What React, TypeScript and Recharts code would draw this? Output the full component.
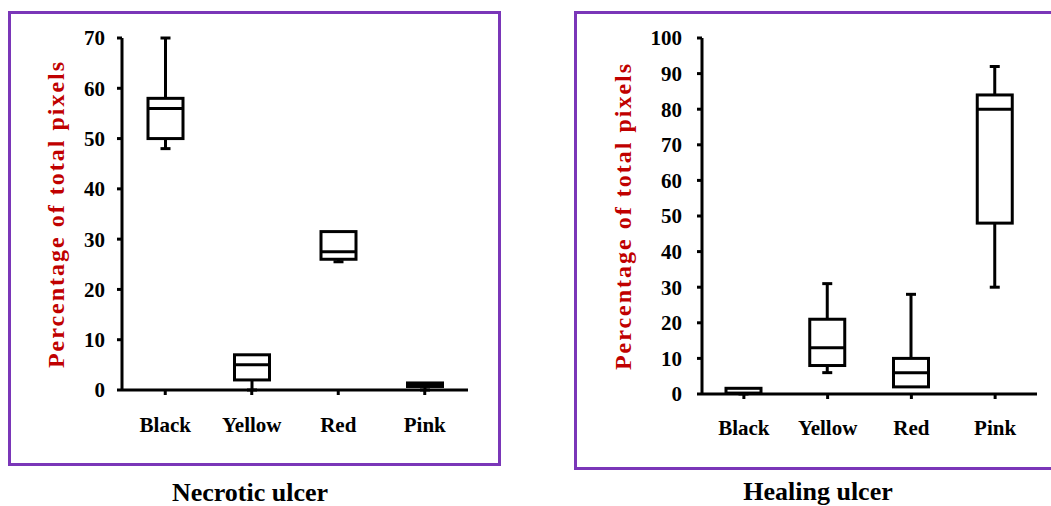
import { ComposedChart, Bar, XAxis, YAxis } from 'recharts';

// five-number summaries
const categories = ['Black', 'Yellow', 'Red', 'Pink'];

const necroticMin = [48, 0, 25.5, 0];
const necroticQ1 = [50, 2, 26, 0.7];
const necroticMedian = [56, 5, 27.5, 1];
const necroticQ3 = [58, 7, 31.5, 1.4];
const necroticMax = [70, 7, 31.5, 1.4];
const necroticTicks = [0, 10, 20, 30, 40, 50, 60, 70];

const healingMin = [0, 6, 2, 30];
const healingQ1 = [0.2, 8, 2, 48];
const healingMedian = [0.2, 13, 6, 80];
const healingQ3 = [1.6, 21, 10, 84];
const healingMax = [1.6, 31, 28, 92];
const healingTicks = [0, 10, 20, 30, 40, 50, 60, 70, 80, 90, 100];

const FONT = "'Liberation Serif', 'Times New Roman', serif";
const PURPLE = '#7a36b8';
const AXIS_RED = '#c00000';

type Row = { name: string; min: number; q1: number; median: number; q3: number; max: number };

function buildRows(min: number[], q1: number[], med: number[], q3: number[], max: number[]): Row[] {
    return categories.map((name, i) => ({ name, min: min[i], q1: q1[i], median: med[i], q3: q3[i], max: max[i] }));
}

const necroticData = buildRows(necroticMin, necroticQ1, necroticMedian, necroticQ3, necroticMax);
const healingData = buildRows(healingMin, healingQ1, healingMedian, healingQ3, healingMax);

// the bar spans [min, max]; inner levels are placed along that same span
function BoxShape(props: any) {
    const { x, y, width, height, payload } = props;
    if (x == null || y == null) return null;
    const top = Math.min(y, y + height);
    const bottom = Math.max(y, y + height);
    const span = payload.max - payload.min || 1;
    const py = (v: number) => bottom - ((v - payload.min) / span) * (bottom - top);
    const cx = x + width / 2;
    const cap = 5;
    const yQ1 = py(payload.q1);
    const yQ3 = py(payload.q3);
    const yMed = py(payload.median);
    const yMin = py(payload.min);
    const yMax = py(payload.max);
    const s = { stroke: '#000', strokeWidth: 3, fill: 'none' };
    return (
        <g>
            {yMax < yQ3 - 0.5 && <line x1={cx} x2={cx} y1={yMax} y2={yQ3} {...s} />}
            {yMax < yQ3 - 0.5 && <line x1={cx - cap} x2={cx + cap} y1={yMax} y2={yMax} {...s} />}
            {yMin > yQ1 + 0.5 && <line x1={cx} x2={cx} y1={yQ1} y2={yMin} {...s} />}
            {yMin > yQ1 + 0.5 && <line x1={cx - cap} x2={cx + cap} y1={yMin} y2={yMin} {...s} />}
            <rect x={x} y={yQ3} width={width} height={Math.max(yQ1 - yQ3, 0.5)} fill="#fff" stroke="#000" strokeWidth={3} />
            <line x1={x} x2={x + width} y1={yMed} y2={yMed} {...s} />
        </g>
    );
}

const tickFont = { fill: '#000', fontSize: 21, fontWeight: 'bold', fontFamily: FONT, style: { fontFamily: FONT } };

function Panel({ data, ticks, max, width, margin, yWidth, yMargin, xMargin, labelOffset }: any) {
    return (
        <ComposedChart width={width} height={506} data={data} margin={margin} style={{ fontFamily: FONT }}>
            <XAxis
                dataKey="name"
                height={40}
                axisLine={{ stroke: '#000', strokeWidth: 3 }}
                tickLine={{ stroke: '#000', strokeWidth: 3 }}
                tickSize={5}
                tickMargin={xMargin}
                tick={tickFont}
                interval={0}
            />
            <YAxis
                domain={[0, max]}
                ticks={ticks}
                width={yWidth}
                axisLine={{ stroke: '#000', strokeWidth: 3 }}
                tickLine={{ stroke: '#000', strokeWidth: 3 }}
                tickSize={5}
                tickMargin={yMargin}
                tick={tickFont}
                interval={0}
                label={{
                    value: 'Percentage of total pixels',
                    angle: -90,
                    position: 'insideLeft',
                    offset: labelOffset,
                    style: { textAnchor: 'middle', fill: AXIS_RED, fontSize: 24, fontWeight: 'bold', fontFamily: FONT, letterSpacing: 2 },
                }}
            />
            <Bar
                dataKey={(d: Row) => [d.min, d.max]}
                barSize={35}
                shape={<BoxShape />}
                isAnimationActive={false}
            />
        </ComposedChart>
    );
}

const titleStyle: React.CSSProperties = {
    position: 'absolute',
    top: 480,
    fontFamily: FONT,
    fontWeight: 'bold',
    fontSize: 26,
    lineHeight: '26px',
    textAlign: 'center',
    color: '#000',
    width: 300,
};

export default function App() {
    return (
        <div style={{ position: 'fixed', left: 0, top: 0, width: 1051, height: 506, background: '#fff', overflow: 'hidden' }}>
            <div style={{ position: 'absolute', left: 7.5, top: 10.5, width: 487, height: 449, border: `3px solid ${PURPLE}` }} />
            <div style={{ position: 'absolute', left: 574, top: 10.5, width: 520, height: 453, border: `3px solid ${PURPLE}` }} />
            <div style={{ position: 'absolute', left: 0, top: 0 }}>
                <Panel
                    data={necroticData}
                    ticks={necroticTicks}
                    max={70}
                    width={520}
                    margin={{ top: 38, right: 52, bottom: 76, left: 40 }}
                    yWidth={82}
                    yMargin={12}
                    xMargin={22}
                    labelOffset={15}
                />
            </div>
            <div style={{ position: 'absolute', left: 560, top: 0 }}>
                <Panel
                    data={healingData}
                    ticks={healingTicks}
                    max={100}
                    width={491}
                    margin={{ top: 38, right: 14, bottom: 72, left: 40 }}
                    yWidth={102}
                    yMargin={15}
                    xMargin={21}
                    labelOffset={22}
                />
            </div>
            <div style={{ ...titleStyle, left: 100 }}>Necrotic ulcer</div>
            <div style={{ ...titleStyle, left: 668, top: 479 }}>Healing ulcer</div>
        </div>
    );
}
